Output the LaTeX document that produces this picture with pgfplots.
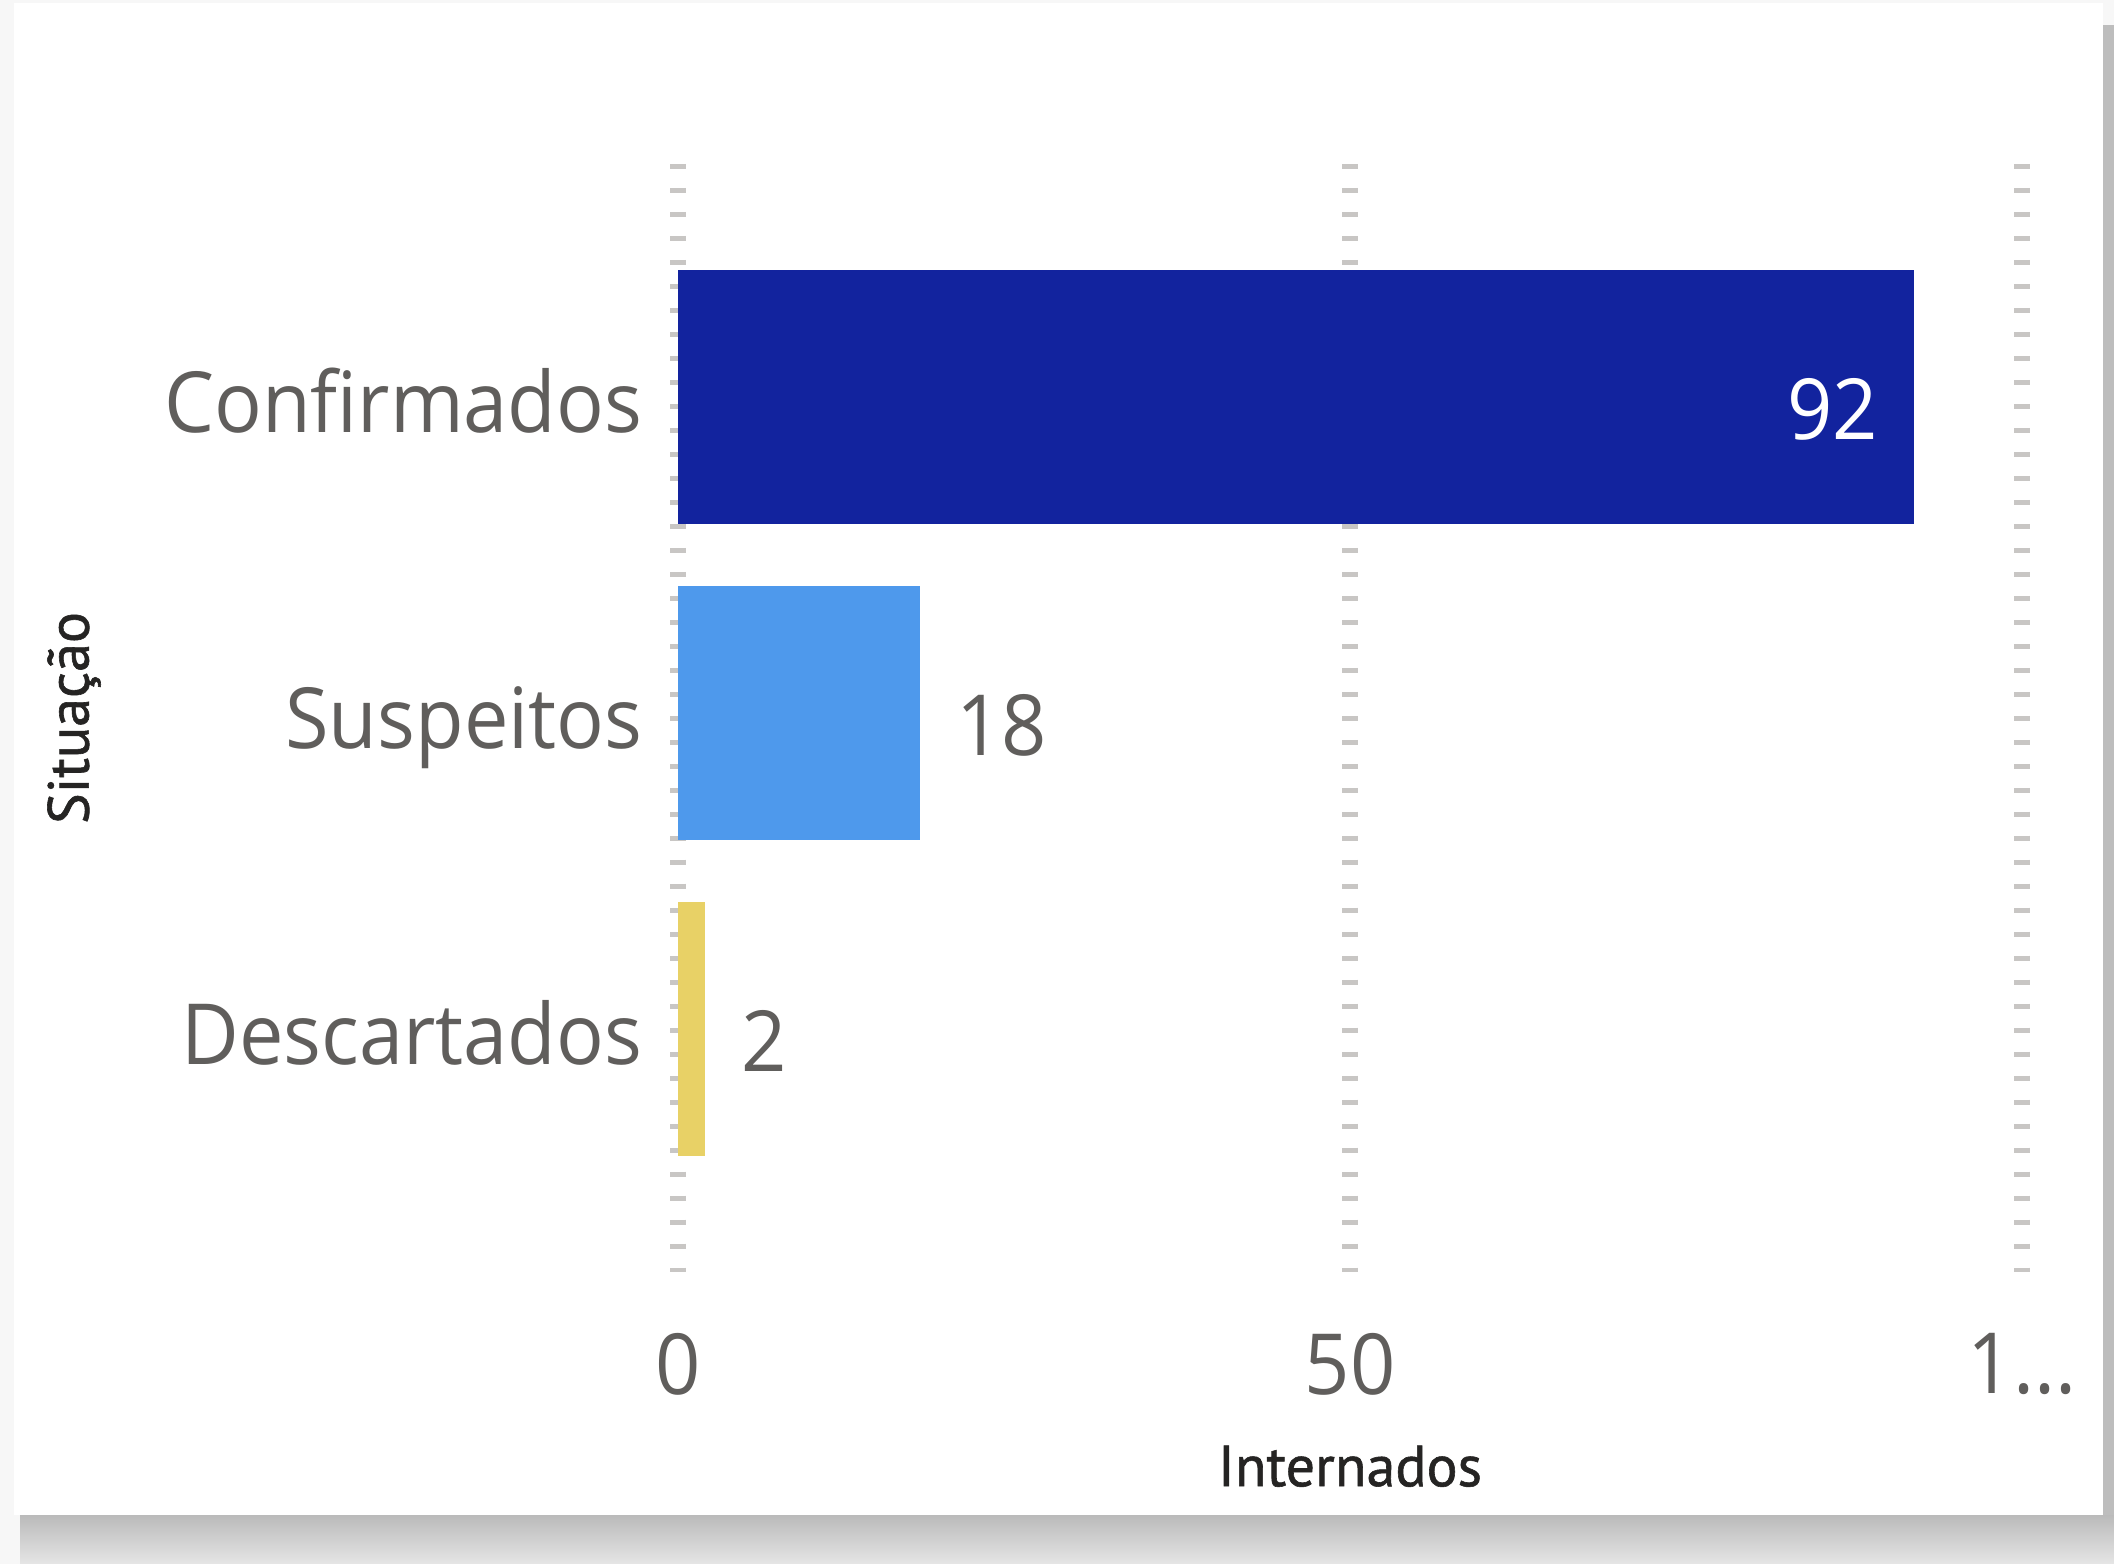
\documentclass[border=0pt]{standalone}
\usepackage{fontspec}
\usepackage{pgfplots}
\pgfplotsset{compat=1.18}
\newfontfamily\segoe[FakeStretch=0.94]{Open Sans}
\newfontfamily\din[FakeBold=1]{PT Sans}
\definecolor{cdark}{HTML}{12239E}
\definecolor{clight}{HTML}{4E99EC}
\definecolor{cyellow}{HTML}{E8D166}
\definecolor{cgrid}{HTML}{C8C6C4}
\definecolor{ctext}{HTML}{605E5C}
\definecolor{ctitle}{HTML}{252423}
\begin{document}
\begin{tikzpicture}
\begin{scope}[x=0.1mm,y=-0.1mm]
\useasboundingbox (0,0) rectangle (2114,1564);
\fill[black!3] (0,0) rectangle (2114,1564);
\shade[top color=black!27, bottom color=black!10] (20,1515) rectangle (2114,1564);
\fill[black!26] (2103,25) rectangle (2114,1515);
\fill[white] (14,3) rectangle (2103,1515);
\end{scope}
\begin{axis}[
  at={(135mm,-71.8mm)}, anchor=center,
  scale only axis, width=134.4mm, height=110.85mm,
  xbar, bar width=25.4mm,
  xmin=0, xmax=100, ymin=-0.74, ymax=2.77, y dir=reverse,
  ytick={0,1,2}, yticklabels={Confirmados,Suspeitos,Descartados},
  xtick={0,50,100}, xticklabels={0,50,{1{.}{.}{.}}},
  axis line style={draw=none}, major tick length=0pt,
  xmajorgrids, grid style={cgrid, line width=1.6mm, dash pattern=on 0.5mm off 1.9mm},
  /pgf/number format/assume math mode=true,
  yticklabel style={font=\segoe\fontsize{24}{24}\selectfont, text=ctext, inner sep=0pt, xshift=-3.5mm, text height=7.4mm, text depth=0.4mm},
  xticklabel style={font=\segoe\fontsize{24}{24}\selectfont, text=ctext, inner sep=0pt, anchor=north, yshift=-6.0mm},
  xlabel={Internados}, ylabel={Situação},
  xlabel style={font=\din\fontsize{16.5}{16.5}\selectfont, text=ctitle, at={(axis description cs:0.5,-0.175)}, anchor=center},
  ylabel style={font=\din\fontsize{16.5}{16.5}\selectfont, text=ctitle, at={(axis description cs:-0.4494,0.5)}, anchor=center},
  nodes near coords style={font=\segoe\fontsize{24}{24}\selectfont, inner sep=0pt, text height=8.8mm, text depth=0.4mm},
]
\addplot[fill=cdark, draw=none, bar shift=0pt, nodes near coords,
  nodes near coords style={anchor=east, xshift=-3.6mm, text=white}] coordinates {(92,0)};
\addplot[fill=clight, draw=none, bar shift=0pt, nodes near coords,
  nodes near coords style={anchor=west, xshift=3.6mm, text=ctext}] coordinates {(18,1)};
\addplot[fill=cyellow, draw=none, bar shift=0pt, nodes near coords,
  nodes near coords style={anchor=west, xshift=3.6mm, text=ctext}] coordinates {(2,2)};
\end{axis}
\end{tikzpicture}
\end{document}
